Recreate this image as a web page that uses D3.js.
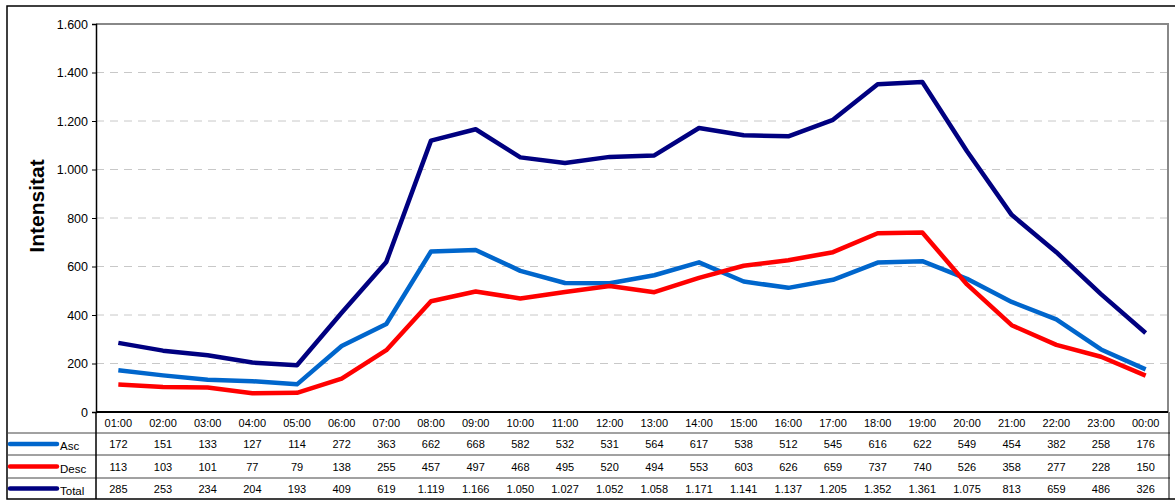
<!DOCTYPE html>
<html><head><meta charset="utf-8">
<script src="https://cdn.jsdelivr.net/npm/d3@7"></script>
<style>
html,body{margin:0;padding:0;background:#fff;}
svg{display:block;font-family:"Liberation Sans",Arial,sans-serif;}
</style></head>
<body>
<svg id="chart" width="1175" height="501"></svg>
<script>
const categories = ["01:00","02:00","03:00","04:00","05:00","06:00","07:00","08:00","09:00","10:00","11:00","12:00","13:00","14:00","15:00","16:00","17:00","18:00","19:00","20:00","21:00","22:00","23:00","00:00"];
const asc   = [172,151,133,127,114,272,363,662,668,582,532,531,564,617,538,512,545,616,622,549,454,382,258,176];
const desc  = [113,103,101,77,79,138,255,457,497,468,495,520,494,553,603,626,659,737,740,526,358,277,228,150];
const total = [285,253,234,204,193,409,619,1119,1166,1050,1027,1052,1058,1171,1141,1137,1205,1352,1361,1075,813,659,486,326];
const yTicks = [0,200,400,600,800,1000,1200,1400,1600];
const seriesNames = ["Asc","Desc","Total"];
const seriesColors = ["#0066CC","#FF0000","#000080"];
const yTitle = "Intensitat";

const series = [asc, desc, total];
const loc = d3.formatLocale({decimal:",", thousands:".", grouping:[3], currency:["",""]});
const fmt = loc.format(",d");

const svg = d3.select("#chart");
const L = 96, R = 1168, T = 24, B = 412;
const rowY = [412, 433, 455, 478, 499];

const x = d3.scaleBand().domain(categories).range([L, R]).padding(0);
const y = d3.scaleLinear().domain([0,1600]).range([B, T]);

// outer frame
svg.append("rect").attr("x",7).attr("y",6).attr("width",1180).attr("height",493)
  .attr("fill","none").attr("stroke","#000").attr("stroke-width",1.5);

// gridlines
svg.append("g").selectAll("line").data(yTicks.filter(v=>v>0 && v<1600)).join("line")
  .attr("x1",L).attr("x2",R).attr("y1",d=>y(d)).attr("y2",d=>y(d))
  .attr("stroke","#c8c8c8").attr("stroke-width",1).attr("stroke-dasharray","8,6");

// plot area border top/right (gray)
svg.append("path").attr("d",`M${L},${T}H${R}V${B}`).attr("fill","none")
  .attr("stroke","#888").attr("stroke-width",2);

// y axis
const yAxis = d3.axisLeft(y).tickValues(yTicks).tickSize(4).tickPadding(4).tickFormat(d=>fmt(d));
const gy = svg.append("g").attr("transform",`translate(${L},0)`).call(yAxis);
gy.select(".domain").attr("stroke","#000").attr("stroke-width",1.5);
gy.selectAll(".tick line").attr("stroke","#000");
gy.selectAll(".tick text").attr("font-size",12.5).attr("fill","#000")
  .attr("font-family","'Liberation Sans',Arial,sans-serif");

// y title
svg.append("text").attr("transform","translate(44,206) rotate(-90)")
  .attr("text-anchor","middle").attr("font-size",21).attr("font-weight","bold")
  .text(yTitle);

// lines
const line = d3.line().x((d,i)=>x(categories[i])+x.bandwidth()/2).y(d=>y(d));
series.forEach((s,k)=>{
  svg.append("path").datum(s).attr("d",line).attr("fill","none")
    .attr("stroke",seriesColors[k]).attr("stroke-width",4.5).attr("stroke-linejoin","round");
});

// table
const tbl = svg.append("g");
tbl.selectAll("line.h").data(rowY.slice(1,4)).join("line")
  .attr("x1",7).attr("x2",R+2).attr("y1",d=>d).attr("y2",d=>d)
  .attr("stroke","#444").attr("stroke-width",1);
tbl.append("line").attr("x1",L).attr("x2",R).attr("y1",B).attr("y2",B)
  .attr("stroke","#000").attr("stroke-width",2);
tbl.append("line").attr("x1",L).attr("x2",L).attr("y1",B).attr("y2",499).attr("stroke","#000").attr("stroke-width",1.5);
tbl.append("line").attr("x1",R+1).attr("x2",R+1).attr("y1",B).attr("y2",499).attr("stroke","#000").attr("stroke-width",1);

tbl.selectAll("text.cat").data(categories).join("text")
  .attr("x",d=>x(d)+x.bandwidth()/2).attr("y",(rowY[0]+rowY[1])/2+4)
  .attr("text-anchor","middle").attr("font-size",11).text(d=>d);

series.forEach((s,k)=>{
  const cy = (rowY[k+1]+rowY[k+2])/2;
  tbl.append("g").selectAll("text").data(s).join("text")
    .attr("x",(d,i)=>x(categories[i])+x.bandwidth()/2).attr("y",cy+4)
    .attr("text-anchor","middle").attr("font-size",11).text(d=>fmt(d));
  tbl.append("line").attr("x1",10).attr("x2",57).attr("y1",cy).attr("y2",cy)
    .attr("stroke",seriesColors[k]).attr("stroke-width",4.5).attr("stroke-linecap","round");
  tbl.append("text").attr("x",60).attr("y",cy+6).attr("font-size",11.5).text(seriesNames[k]);
});
</script>
</body></html>
